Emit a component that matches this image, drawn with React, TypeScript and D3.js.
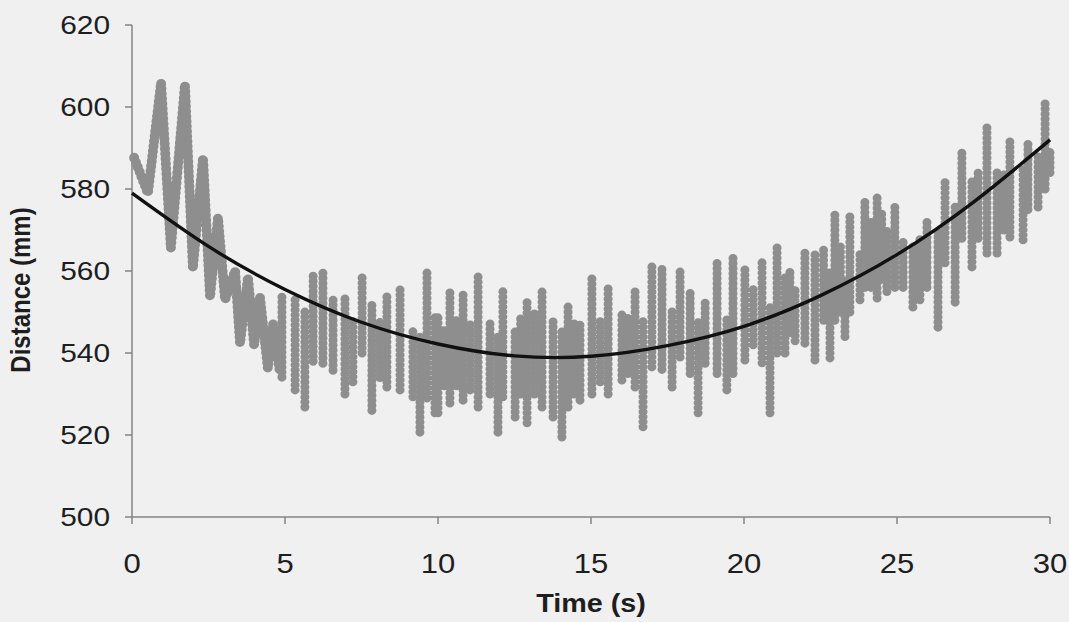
import React from "react";
import * as d3 from "d3";

// ---- data ----
const xTicks = [0, 5, 10, 15, 20, 25, 30];
const yTicks = [500, 520, 540, 560, 580, 600, 620];

// early part (0–4.8 s): turning points of the oscillation
const earlyT = [0.07, 0.52, 0.95, 1.27, 1.73, 1.99, 2.32, 2.55, 2.81, 3.04, 3.37, 3.53, 3.79, 3.99, 4.18, 4.44, 4.61, 4.84];
const earlyD = [587.6, 579, 605.9, 565.6, 605.4, 560.7, 587.6, 553.7, 573, 553, 560, 542.4, 558.5, 542, 553.7, 536.3, 547, 535];

// later part: vertical bursts (time, top, bottom)
const colT = [4.9, 5.33, 5.65, 5.92, 6.24, 6.57, 6.96, 7.22, 7.52, 7.84, 8.1, 8.33, 8.76, 9.18, 9.41, 9.64, 9.9, 10.0, 10.2, 10.39, 10.6, 10.82, 11.05, 11.31, 11.7, 11.96, 12.12, 12.52, 12.7, 12.91, 13.15, 13.4, 13.76, 14.05, 14.25, 14.45, 14.64, 15.03, 15.3, 15.56, 16.01, 16.2, 16.44, 16.7, 16.99, 17.32, 17.65, 17.91, 18.24, 18.5, 18.73, 19.12, 19.44, 19.64, 20.03, 20.3, 20.59, 20.85, 21.08, 21.34, 21.5, 21.67, 21.99, 22.32, 22.6, 22.81, 22.97, 23.15, 23.3, 23.46, 23.79, 23.95, 24.15, 24.35, 24.5, 24.67, 24.93, 25.2, 25.52, 25.75, 25.98, 26.34, 26.57, 26.9, 27.12, 27.45, 27.65, 27.94, 28.27, 28.5, 28.69, 29.12, 29.28, 29.61, 29.84, 30.0];
const colHigh = [554.6, 553, 551, 559, 559.5, 553.7, 553.4, 548, 558.5, 552, 548, 554.6, 556, 546.3, 545, 559.5, 548.8, 549, 546, 555, 548, 555, 547, 559.5, 547.3, 545, 555.8, 546, 549, 553.4, 550, 556, 548, 546, 551.7, 548, 546.8, 558.3, 548, 556, 550, 549, 554.9, 548, 562, 561.5, 550, 559.8, 555.4, 548, 553, 562, 549, 563.4, 561, 556, 562, 552, 566.8, 558.5, 560, 556, 564.6, 564.4, 566, 560, 573.7, 566, 558, 574, 565, 577, 572, 578, 574, 570, 575.6, 568, 566, 568, 573, 570, 581.7, 576, 588.8, 582, 584, 596, 585, 584, 592, 585, 591.2, 588, 601, 590];
const colLow = [534.1, 531, 526.8, 538, 537.5, 535.8, 530, 533, 540, 526, 534, 531.7, 531, 529.3, 520.7, 529, 525.4, 525.4, 532, 527.8, 532, 528.5, 531, 526.8, 530, 520.7, 529.3, 524.4, 530, 523, 530, 526.8, 524.4, 519.5, 526.8, 530, 528.5, 530, 533, 530, 533.4, 535, 531.7, 522, 536.6, 536, 531.7, 539, 535, 525.4, 537.5, 535, 531, 535, 538.3, 542, 537.6, 525.4, 540, 540, 545, 543, 542.4, 538.3, 548, 538.8, 548, 550, 544, 550, 553, 556, 556, 553.4, 558, 555, 556, 556, 551.2, 553, 556, 546.3, 562, 552.4, 568, 561, 568, 564.4, 564.4, 570, 568.3, 567.6, 575, 575.6, 580, 584];

// polynomial trend line
const trendT = [0, 2.5, 5, 7.5, 10, 12.5, 15, 17.5, 20, 22.5, 25, 27.5, 30];
const trendD = [579, 566, 555.5, 547.5, 542.2, 539.3, 539.2, 541.8, 546.5, 554, 564, 576.8, 592];

const W = 1069;
const H = 622;
const M = { left: 132, right: 1050, top: 25, bottom: 517 };
const SX = 1.15; // horizontal stretch of the scanned text

export default function App() {
  const x = d3.scaleLinear().domain([0, 30]).range([M.left, M.right]);
  const y = d3.scaleLinear().domain([500, 620]).range([M.bottom, M.top]);

  const line = d3.line<[number, number]>().x((d) => x(d[0])).y((d) => y(d[1]));
  const trend = d3
    .line<[number, number]>()
    .x((d) => x(d[0]))
    .y((d) => y(d[1]))
    .curve(d3.curveNatural);

  const earlyPts: [number, number][] = earlyT.map((t, i) => [t, earlyD[i]]);
  const trendPts: [number, number][] = trendT.map((t, i) => [t, trendD[i]]);

  const dotStyle = {
    fill: "none",
    stroke: "#8e8e8e",
    strokeWidth: 9,
    strokeLinecap: "round" as const,
    strokeLinejoin: "round" as const,
    strokeDasharray: "0 5",
  };
  const axisColor = "#858585";
  const textColor = "#1e1e1e";
  const font = "'Liberation Sans', Arial, sans-serif";

  return (
    <svg width={W} height={H} style={{ position: "absolute", left: 0, top: 0, background: "#f0f0f0" }}>
      <rect x={0} y={0} width={W} height={H} fill="#f0f0f0" />

      {/* axes */}
      <line x1={M.left} x2={M.left} y1={M.top} y2={M.bottom} stroke={axisColor} strokeWidth={1.5} />
      <line x1={M.left} x2={M.right} y1={M.bottom} y2={M.bottom} stroke={axisColor} strokeWidth={1.5} />
      {yTicks.map((v) => (
        <g key={"y" + v}>
          <line x1={M.left - 7} x2={M.left} y1={y(v)} y2={y(v)} stroke={axisColor} strokeWidth={1.5} />
          <text
            transform={`translate(110,${y(v)}) scale(${SX},1)`}
            dy="0.36em"
            textAnchor="end"
            fontFamily={font}
            fontSize={26}
            fill={textColor}
          >
            {v}
          </text>
        </g>
      ))}
      {xTicks.map((v) => (
        <g key={"x" + v}>
          <line x1={x(v)} x2={x(v)} y1={M.bottom} y2={M.bottom + 7} stroke={axisColor} strokeWidth={1.5} />
          <text
            transform={`translate(${x(v)},573) scale(${SX},1)`}
            textAnchor="middle"
            fontFamily={font}
            fontSize={27}
            fill={textColor}
          >
            {v}
          </text>
        </g>
      ))}

      {/* data */}
      <path d={line(earlyPts) || ""} {...dotStyle} strokeWidth={10} />
      {colT.map((t, i) => (
        <path
          key={"c" + i}
          d={line([
            [t, colLow[i]],
            [t, colHigh[i]],
          ]) || ""}
          {...dotStyle}
        />
      ))}

      {/* trend */}
      <path d={trend(trendPts) || ""} fill="none" stroke="#111" strokeWidth={3.4} />

      {/* titles */}
      <text
        transform={`translate(${(M.left + M.right) / 2},612) scale(${SX},1)`}
        textAnchor="middle"
        fontFamily={font}
        fontWeight="bold"
        fontSize={25}
        fill={textColor}
      >
        Time (s)
      </text>
      <text
        transform={`translate(30,290) scale(${SX},1) rotate(-90)`}
        textAnchor="middle"
        fontFamily={font}
        fontWeight="bold"
        fontSize={24}
        fill={textColor}
      >
        Distance (mm)
      </text>
    </svg>
  );
}
